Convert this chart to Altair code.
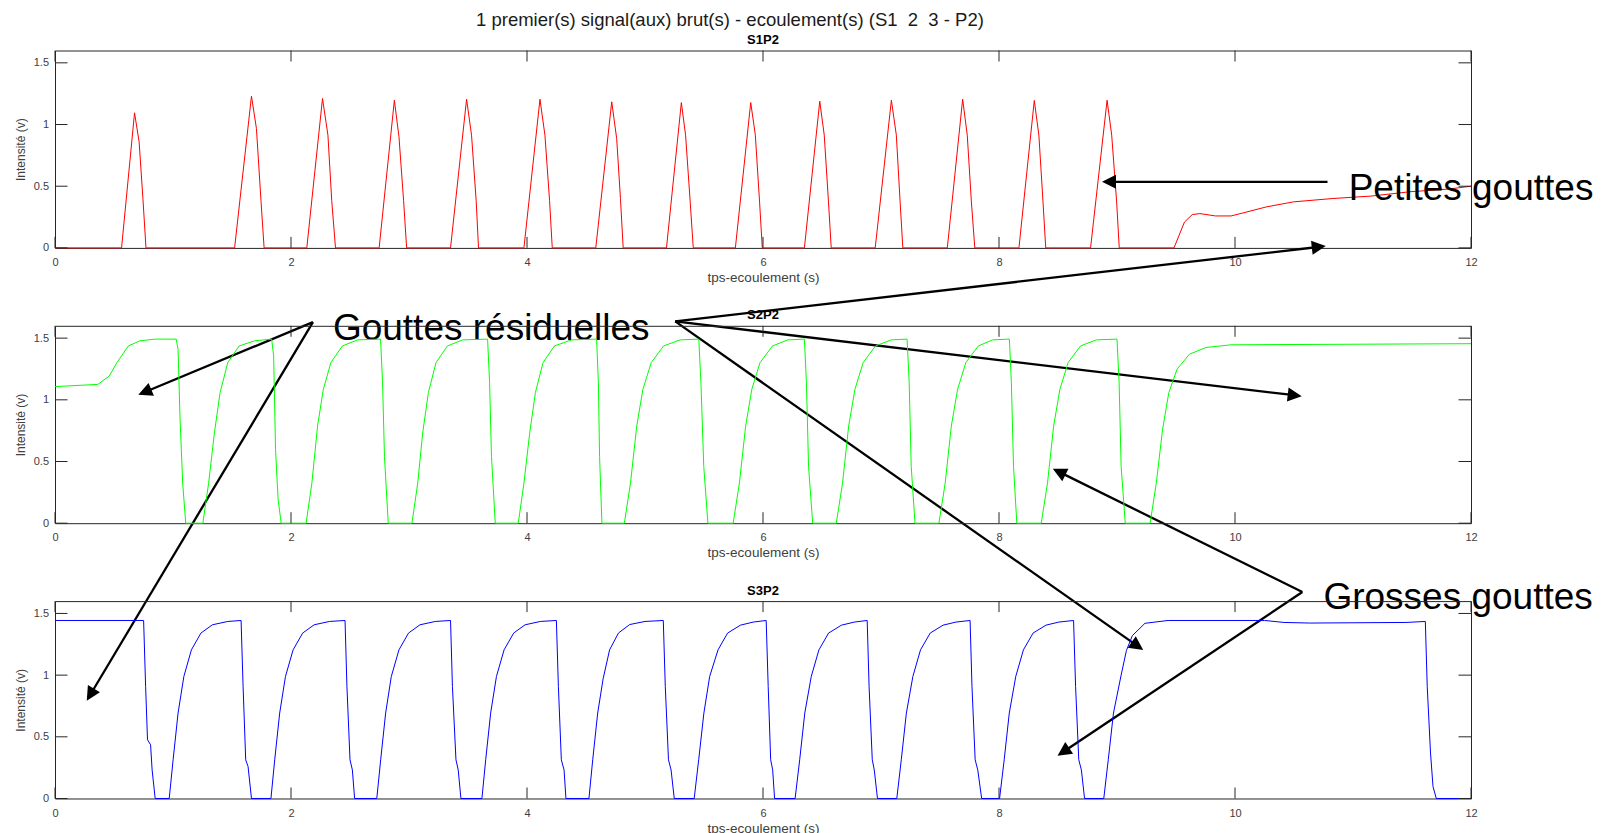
import math
import altair as alt
import pandas as pd

FONT = "Liberation Sans"
TITLE = "1 premier(s) signal(aux) brut(s) - ecoulement(s) (S1\u00a0 2\u00a0 3 - P2)"
PANEL_TITLES = ["S1P2", "S2P2", "S3P2"]
X_TITLE = "tps-ecoulement (s)"
Y_TITLE = "Intensité (v)"
X_TICKS = [0, 2, 4, 6, 8, 10, 12]
Y_TICKS = [0, 0.5, 1, 1.5]
COLORS = ["#ff0000", "#00ff00", "#0000ff"]

# ---------------- S1P2 (red) ----------------
s1_t = [0, 0.564, 0.674, 0.713, 0.745, 0.771,
        1.522, 1.665, 1.707, 1.746, 1.772,
        2.134, 2.267, 2.313, 2.345, 2.377,
        2.747, 2.876, 2.915, 2.954, 2.980,
        3.352, 3.488, 3.530, 3.569, 3.589,
        3.974, 4.110, 4.152, 4.191, 4.214,
        4.583, 4.718, 4.760, 4.792, 4.815,
        5.182, 5.308, 5.344, 5.383, 5.409,
        5.766, 5.896, 5.935, 5.971, 5.994,
        6.351, 6.481, 6.519, 6.555, 6.578,
        6.951, 7.088, 7.130, 7.162, 7.185,
        7.562, 7.692, 7.731, 7.766, 7.795,
        8.169, 8.299, 8.338, 8.373, 8.396,
        8.776, 8.916, 8.955, 8.997, 9.019,
        9.483, 9.572, 9.638, 9.703, 9.835, 9.967, 10.066, 10.264,
        10.494, 10.824, 11.153, 11.483, 11.812, 12.0]
s1_v = [0, 0, 1.095, 0.859, 0.400, 0,
        0, 1.230, 0.968, 0.378, 0,
        0, 1.211, 0.914, 0.386, 0,
        0, 1.197, 0.900, 0.386, 0,
        0, 1.205, 0.914, 0.386, 0,
        0, 1.205, 0.914, 0.386, 0,
        0, 1.184, 0.886, 0.400, 0,
        0, 1.178, 0.914, 0.373, 0,
        0, 1.178, 0.914, 0.373, 0,
        0, 1.189, 0.914, 0.373, 0,
        0, 1.197, 0.914, 0.373, 0,
        0, 1.205, 0.914, 0.373, 0,
        0, 1.195, 0.914, 0.373, 0,
        0, 1.197, 0.914, 0.373, 0,
        0, 0.210, 0.270, 0.278, 0.259, 0.259, 0.283, 0.332,
        0.373, 0.400, 0.420, 0.455, 0.477, 0.500]

# ---------------- S2P2 (green) ----------------
s2_t = [0, 0.363, 0.460, 0.525, 0.622, 0.719, 0.849, 1.027,
        1.043, 1.059, 1.082, 1.108,
        1.253, 1.302, 1.351, 1.399, 1.464, 1.561, 1.691, 1.836,
        1.853, 1.869, 1.891, 1.917,
        2.128, 2.177, 2.225, 2.274, 2.338, 2.436, 2.565, 2.759,
        2.776, 2.792, 2.824,
        3.025, 3.074, 3.116, 3.164, 3.229, 3.326, 3.456, 3.666,
        3.683, 3.699, 3.731,
        3.926, 3.974, 4.023, 4.071, 4.136, 4.233, 4.379, 4.590,
        4.605, 4.615, 4.635,
        4.825, 4.877, 4.930, 4.982, 5.053, 5.158, 5.298, 5.456,
        5.474, 5.498, 5.533,
        5.747, 5.800, 5.853, 5.905, 5.975, 6.081, 6.211, 6.351,
        6.368, 6.386, 6.421,
        6.621, 6.674, 6.726, 6.779, 6.849, 6.954, 7.088, 7.221,
        7.239, 7.256, 7.288,
        7.491, 7.544, 7.596, 7.649, 7.719, 7.825, 7.947, 8.088,
        8.105, 8.123, 8.151,
        8.358, 8.411, 8.463, 8.516, 8.586, 8.691, 8.825, 9.000,
        9.018, 9.035, 9.070,
        9.281, 9.333, 9.386, 9.439, 9.509, 9.614, 9.754, 9.965, 12.0]
s2_v = [1.107, 1.125, 1.193, 1.302, 1.437, 1.478, 1.492, 1.492,
        1.410, 0.868, 0.325, 0,
        0, 0.325, 0.732, 1.058, 1.302, 1.437, 1.478, 1.492,
        1.356, 0.597, 0.190, 0,
        0, 0.325, 0.787, 1.085, 1.302, 1.437, 1.486, 1.492,
        1.139, 0.542, 0,
        0, 0.325, 0.732, 1.058, 1.302, 1.437, 1.486, 1.492,
        1.139, 0.542, 0,
        0, 0.325, 0.732, 1.058, 1.302, 1.437, 1.486, 1.492,
        1.139, 0.542, 0,
        0, 0.325, 0.787, 1.085, 1.302, 1.437, 1.486, 1.492,
        1.139, 0.461, 0,
        0, 0.325, 0.787, 1.085, 1.302, 1.437, 1.486, 1.492,
        1.139, 0.461, 0,
        0, 0.325, 0.787, 1.085, 1.302, 1.437, 1.486, 1.492,
        1.139, 0.461, 0,
        0, 0.325, 0.787, 1.085, 1.302, 1.437, 1.486, 1.492,
        1.139, 0.461, 0,
        0, 0.325, 0.787, 1.085, 1.302, 1.437, 1.486, 1.492,
        1.139, 0.461, 0,
        0, 0.325, 0.759, 1.058, 1.248, 1.370, 1.424, 1.446, 1.455]

# ---------------- S3P2 (blue) ----------------
s3_t = [0, 0.751, 0.768, 0.784, 0.810, 0.823, 0.849,
        0.968, 1.001, 1.043, 1.092, 1.156, 1.237, 1.334, 1.464, 1.577,
        1.594, 1.616, 1.636, 1.665,
        1.830, 1.862, 1.904, 1.953, 2.018, 2.099, 2.196, 2.326, 2.458,
        2.474, 2.500, 2.520, 2.539,
        2.727, 2.760, 2.802, 2.850, 2.915, 2.996, 3.093, 3.223, 3.352,
        3.368, 3.398, 3.417, 3.440,
        3.618, 3.650, 3.692, 3.741, 3.806, 3.887, 3.984, 4.113, 4.249,
        4.266, 4.291, 4.314, 4.330,
        4.525, 4.557, 4.599, 4.645, 4.700, 4.775, 4.870, 5.000, 5.155,
        5.172, 5.199, 5.221, 5.248,
        5.417, 5.455, 5.499, 5.548, 5.619, 5.700, 5.809, 5.918, 6.027,
        6.044, 6.065, 6.082, 6.098,
        6.272, 6.311, 6.354, 6.409, 6.474, 6.556, 6.665, 6.774, 6.883,
        6.899, 6.926, 6.943, 6.970,
        7.134, 7.172, 7.215, 7.270, 7.335, 7.417, 7.526, 7.635, 7.755,
        7.771, 7.798, 7.820, 7.853,
        8.005, 8.044, 8.087, 8.142, 8.207, 8.289, 8.398, 8.507, 8.632,
        8.649, 8.676, 8.698, 8.725,
        8.888, 8.926, 8.970, 9.035, 9.080, 9.130, 9.237, 9.433, 10.251,
        10.414, 10.632, 11.450, 11.613,
        11.629, 11.657, 11.678, 11.706, 12.0]
s3_v = [1.443, 1.443, 0.908, 0.476, 0.435, 0.232, 0,
        0, 0.314, 0.692, 0.989, 1.205, 1.341, 1.408, 1.435, 1.443,
        0.908, 0.314, 0.259, 0,
        0, 0.314, 0.692, 0.989, 1.205, 1.341, 1.408, 1.435, 1.443,
        0.908, 0.314, 0.232, 0,
        0, 0.314, 0.692, 0.989, 1.205, 1.341, 1.408, 1.435, 1.443,
        0.908, 0.314, 0.232, 0,
        0, 0.314, 0.692, 0.989, 1.205, 1.341, 1.408, 1.435, 1.443,
        0.908, 0.314, 0.232, 0,
        0, 0.314, 0.692, 0.970, 1.205, 1.341, 1.410, 1.435, 1.443,
        0.908, 0.314, 0.232, 0,
        0, 0.314, 0.692, 0.989, 1.205, 1.341, 1.405, 1.430, 1.443,
        0.908, 0.314, 0.232, 0,
        0, 0.314, 0.692, 0.989, 1.205, 1.341, 1.405, 1.430, 1.443,
        0.908, 0.314, 0.232, 0,
        0, 0.314, 0.692, 0.989, 1.205, 1.341, 1.405, 1.430, 1.443,
        0.908, 0.314, 0.232, 0,
        0, 0.314, 0.692, 0.989, 1.205, 1.341, 1.405, 1.430, 1.443,
        0.908, 0.314, 0.232, 0,
        0, 0.314, 0.692, 1.000, 1.200, 1.320, 1.420, 1.443, 1.443,
        1.427, 1.422, 1.427, 1.435,
        0.908, 0.368, 0.097, 0, 0]

# ---------------- annotations (in S2P2 data units) ----------------
ANN_TEXT = ["Petites gouttes", "Gouttes résiduelles", "Grosses gouttes"]
ANN_TEXT_T = [10.963, 2.355, 10.749]
ANN_TEXT_V = [2.612, 1.477, -0.704]
ARROW_T0 = [10.784, 5.256, 5.256, 5.256, 2.186, 2.186, 10.571, 10.571]
ARROW_V0 = [2.762, 1.631, 1.631, 1.631, 1.625, 1.625, -0.563, -0.563]
ARROW_T1 = [8.873, 10.769, 10.565, 9.222, 0.706, 0.269, 8.456, 8.496]
ARROW_V1 = [2.762, 2.241, 1.025, -1.033, 1.036, -1.443, 0.436, -1.889]

# ---------------- layout / style ----------------
W, H = 1416, 197.4
SPACING = 77.3
XMAX, YMAX = 12, 1.6
PX_T = W / XMAX
PX_V = H / YMAX
AX = "#262626"
LBL = "#404040"
HEAD = 7.0  # arrowhead half-size (px)
ARROW_PATH = "M0,0L-1,2L1,2Z"
TITLE_DX = 421  # main title is centred on the figure, a bit left of the plot centre

xs = alt.Scale(domain=[0, XMAX], nice=False, zero=False)
ys = alt.Scale(domain=[0, YMAX], nice=False, zero=False)

XT_LEN = 11 / PX_V
YT_LEN = 12.5 / PX_T
tick_rows = []
for t in X_TICKS:
    tick_rows.append({"t": t, "v": 0, "t2": t, "v2": XT_LEN})
    tick_rows.append({"t": t, "v": YMAX, "t2": t, "v2": YMAX - XT_LEN})
for v in Y_TICKS:
    tick_rows.append({"t": 0, "v": v, "t2": YT_LEN, "v2": v})
    tick_rows.append({"t": XMAX, "v": v, "t2": XMAX - YT_LEN, "v2": v})
tick_df = pd.DataFrame(tick_rows)


def annotation_layers(voff):
    rows, heads = [], []
    for t0, v0, t1, v1 in zip(ARROW_T0, ARROW_V0, ARROW_T1, ARROW_V1):
        dx = (t1 - t0) * PX_T
        dy = -(v1 - v0) * PX_V
        L = math.hypot(dx, dy)
        ang = math.degrees(math.atan2(dx, -dy)) % 360
        k = (L - 1.4 * HEAD) / L  # stop the shaft inside the head
        rows.append({"t": t0, "v": v0 + voff,
                     "t2": t0 + (t1 - t0) * k, "v2": v0 + voff + (v1 - v0) * k})
        heads.append({"t": t1, "v": v1 + voff, "ang": ang})
    rdf = pd.DataFrame(rows)
    hdf = pd.DataFrame(heads)
    tdf = pd.DataFrame({"t": ANN_TEXT_T, "v": [v + voff for v in ANN_TEXT_V],
                        "label": ANN_TEXT})
    shafts = alt.Chart(rdf).mark_rule(color="black", strokeWidth=2.3).encode(
        x=alt.X("t:Q", scale=xs), y=alt.Y("v:Q", scale=ys), x2="t2:Q", y2="v2:Q")
    arrowheads = alt.Chart(hdf).mark_point(
        shape=ARROW_PATH, filled=True, color="black", opacity=1,
        size=(2 * HEAD) ** 2, strokeWidth=0).encode(
        x=alt.X("t:Q", scale=xs), y=alt.Y("v:Q", scale=ys),
        angle=alt.Angle("ang:Q", scale=None))
    texts = alt.Chart(tdf).mark_text(
        align="left", baseline="alphabetic", font=FONT, fontSize=37,
        color="black").encode(
        x=alt.X("t:Q", scale=xs), y=alt.Y("v:Q", scale=ys), text="label:N")
    return [shafts, arrowheads, texts]


def panel(i, t, v, extra=None):
    df = pd.DataFrame({"t": t, "v": v})
    line = alt.Chart(df).mark_line(color=COLORS[i], strokeWidth=1).encode(
        x=alt.X("t:Q", scale=xs, axis=alt.Axis(
            values=X_TICKS, format="d", title=X_TITLE, domain=False, ticks=False,
            tickSize=0, grid=False, labelFlush=False, labelFont=FONT,
            labelFontSize=11, labelColor=LBL, labelPadding=8.5,
            titleFont=FONT, titleFontSize=13.5, titleFontWeight="normal",
            titleColor=LBL, titlePadding=3)),
        y=alt.Y("v:Q", scale=ys, axis=alt.Axis(
            values=Y_TICKS, format="~g", title=Y_TITLE, domain=False, ticks=False,
            tickSize=0, grid=False, labelFlush=False, labelFont=FONT,
            labelFontSize=11, labelColor=LBL, labelPadding=6.5,
            titleFont=FONT, titleFontSize=12, titleFontWeight="normal",
            titleColor=LBL, titlePadding=6)))
    ticks = alt.Chart(tick_df).mark_rule(color=AX, strokeWidth=1).encode(
        x=alt.X("t:Q", scale=xs), y=alt.Y("v:Q", scale=ys), x2="t2:Q", y2="v2:Q")
    layers = [line, ticks] + (extra or [])
    title = alt.TitleParams(
        text=PANEL_TITLES[i], font=FONT, fontSize=13, fontWeight="bold",
        color="black", anchor="middle", frame="group", offset=3)
    return alt.layer(*layers).properties(width=W, height=H, title=title)


# S2P2 units -> S1P2 units (S1P2 sits one panel-plus-gap above S2P2)
VOFF1 = -(H + SPACING) / PX_V
p1 = panel(0, s1_t, s1_v, extra=annotation_layers(VOFF1))
p2 = panel(1, s2_t, s2_v)
p3 = panel(2, s3_t, s3_v)

chart = alt.vconcat(p1, p2, p3, spacing=SPACING, bounds="flush").properties(
    title=alt.TitleParams(
        text=TITLE, font=FONT, fontSize=18.5, fontWeight="normal",
        color="#1a1a1a", anchor="start", frame="group", dx=TITLE_DX, offset=4),
    padding={"left": 5, "top": 2.5, "right": 5, "bottom": 0},
    background="white",
).configure_view(stroke=AX, strokeWidth=1)

chart.save("out.html", embed_options={"renderer": "svg", "actions": False})
